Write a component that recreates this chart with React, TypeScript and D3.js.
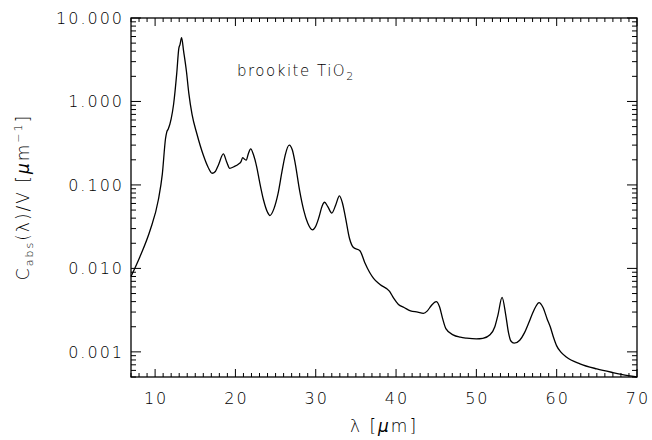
import React from 'react'
import * as d3 from 'd3'

// wavelength (micron) and absorption cross-section per volume
const lambda = [
  7.0, 8.1, 9.4, 10.4, 10.9, 11.3, 11.45, 11.65, 12.0, 12.3, 12.7, 12.95, 13.1, 13.3, 13.55, 13.9,
  14.2, 14.6, 15.2, 16.0, 16.6, 17.1, 17.5, 17.9, 18.5, 18.9, 19.3, 19.8, 20.4, 20.7, 20.9, 21.1, 21.35,
  21.6, 21.9, 22.25, 22.65, 23.0, 23.5, 24.0, 24.3, 24.8, 25.3, 25.8, 26.2, 26.7, 27.1, 27.45, 28.0,
  28.5, 29.0, 29.6, 30.0, 30.4, 30.8, 31.1, 31.5, 32.0, 32.5, 32.95, 33.3, 33.7, 34.2, 34.7, 35.5,
  36.1, 36.7, 37.2, 38.0, 39.2, 39.7, 40.3, 41.0, 41.8, 42.7, 43.4, 43.9, 44.4, 45.0, 45.4, 45.8,
  46.2, 47.1, 48.0, 48.8, 50.0, 50.8, 51.7, 52.3, 52.7, 53.2, 53.65, 54.0, 54.3, 54.7, 55.4, 56.0,
  56.5, 57.0, 57.4, 57.8, 58.3, 58.8, 59.2, 59.6, 60.0, 60.5, 61.2, 62.9, 65.0, 67.0, 68.9, 70.0,
]
const cabs = [
  0.008, 0.0137, 0.029, 0.066, 0.135, 0.36, 0.43, 0.47, 0.62, 0.92, 2.2, 4.3, 4.8, 5.8, 4.0, 2.3,
  1.25, 0.7, 0.41, 0.228, 0.163, 0.138, 0.145, 0.175, 0.235, 0.19, 0.158, 0.165, 0.178, 0.19, 0.212, 0.205, 0.198,
  0.235, 0.27, 0.23, 0.165, 0.11, 0.066, 0.047, 0.043, 0.052, 0.078, 0.145, 0.228, 0.3, 0.26, 0.18, 0.085,
  0.05, 0.035, 0.029, 0.032, 0.041, 0.056, 0.062, 0.055, 0.046, 0.058, 0.074, 0.062, 0.041, 0.023, 0.0178, 0.0163,
  0.0118, 0.009, 0.0076, 0.0064, 0.0053, 0.0044, 0.0037, 0.0034, 0.0031, 0.003, 0.0029, 0.0031, 0.0036, 0.004, 0.0035, 0.0025,
  0.0019, 0.0016, 0.0015, 0.00146, 0.00143, 0.00145, 0.0016, 0.002, 0.0028, 0.0045, 0.0028, 0.0017, 0.00135, 0.00127, 0.00138, 0.0017,
  0.0022, 0.0029, 0.0035, 0.0039, 0.0034, 0.0025, 0.002, 0.0015, 0.00118, 0.001, 0.00087, 0.00072, 0.000625, 0.000565, 0.00052, 0.0005,
]

const xTicks = [10, 20, 30, 40, 50, 60, 70]
const yTicks = [0.001, 0.01, 0.1, 1, 10]
const yTickLabels = ['0.001', '0.010', '0.100', '1.000', '10.000']

const W = 652
const H = 440
const left = 131
const right = 637
const top = 18
const bottom = 377

const font = "'DejaVu Sans', sans-serif"
const ink = '#000'

export default function App() {
  const x = d3.scaleLinear().domain([7, 70]).range([left, right])
  const y = d3.scaleLog().domain([5e-4, 10]).range([bottom, top])

  const line = d3
    .line<number>()
    .x((d, i) => x(lambda[i]))
    .y((d) => y(d))
    .curve(d3.curveMonotoneX)

  // minor ticks every 1 micron, decade minors at 2..9
  const xMinor = d3.range(7, 71).filter((v) => v % 10 !== 0)
  const yMinor: number[] = []
  ;[1e-4, 1e-3, 1e-2, 1e-1, 1].forEach((dec) => {
    for (let k = 2; k <= 9; k++) {
      const v = dec * k
      if (v >= 5e-4 && v <= 10) yMinor.push(v)
    }
  })

  return (
    <svg width={W} height={H} style={{ position: 'absolute', left: 0, top: 0, background: '#fff' }}>
      <rect x={0} y={0} width={W} height={H} fill="#fff" />
      <g stroke="#000" strokeWidth={1}>
        {xMinor.map((v) => (
          <g key={'xm' + v}>
            <line x1={x(v)} x2={x(v)} y1={bottom} y2={bottom - 4} />
            <line x1={x(v)} x2={x(v)} y1={top} y2={top + 4} />
          </g>
        ))}
        {xTicks.map((v) => (
          <g key={'xt' + v}>
            <line x1={x(v)} x2={x(v)} y1={bottom} y2={bottom - 8} />
            <line x1={x(v)} x2={x(v)} y1={top} y2={top + 8} />
          </g>
        ))}
        {yMinor.map((v) => (
          <g key={'ym' + v}>
            <line x1={left} x2={left + 5} y1={y(v)} y2={y(v)} />
            <line x1={right} x2={right - 5} y1={y(v)} y2={y(v)} />
          </g>
        ))}
        {yTicks.map((v) => (
          <g key={'yt' + v}>
            <line x1={left} x2={left + 10} y1={y(v)} y2={y(v)} />
            <line x1={right} x2={right - 10} y1={y(v)} y2={y(v)} />
          </g>
        ))}
      </g>
      <rect x={left} y={top} width={right - left} height={bottom - top} fill="none" stroke="#000" strokeWidth={1.3} />

      <path d={line(cabs) || ''} fill="none" stroke="#000" strokeWidth={1.3} />

      <g fontFamily={font} fontSize={16} fontWeight={300} fill={ink} letterSpacing="2">
        {xTicks.map((v) => (
          <text key={'xl' + v} x={x(v) + 1} y={404} textAnchor="middle">
            {v}
          </text>
        ))}
        {yTicks.map((v, i) => (
          <text key={'yl' + v} x={124} y={y(v) + 6} textAnchor="end">
            {yTickLabels[i]}
          </text>
        ))}
        <text x={(left + right) / 2} y={432} fontSize={17} textAnchor="middle">
          λ [<tspan fontStyle="italic">μ</tspan>m]
        </text>
        <text transform="translate(29,197) rotate(-90)" fontSize={17} textAnchor="middle">
          C<tspan fontSize={11} dy={4}>abs</tspan>
          <tspan dy={-4}>(λ)/V [</tspan>
          <tspan fontStyle="italic">μ</tspan>m<tspan fontSize={11} dy={-7}>−1</tspan>
          <tspan dy={7}>]</tspan>
        </text>
        <text x={237} y={76} fontSize={15} letterSpacing="1.5">
          brookite TiO<tspan fontSize={11} dy={4}>2</tspan>
        </text>
      </g>
    </svg>
  )
}
